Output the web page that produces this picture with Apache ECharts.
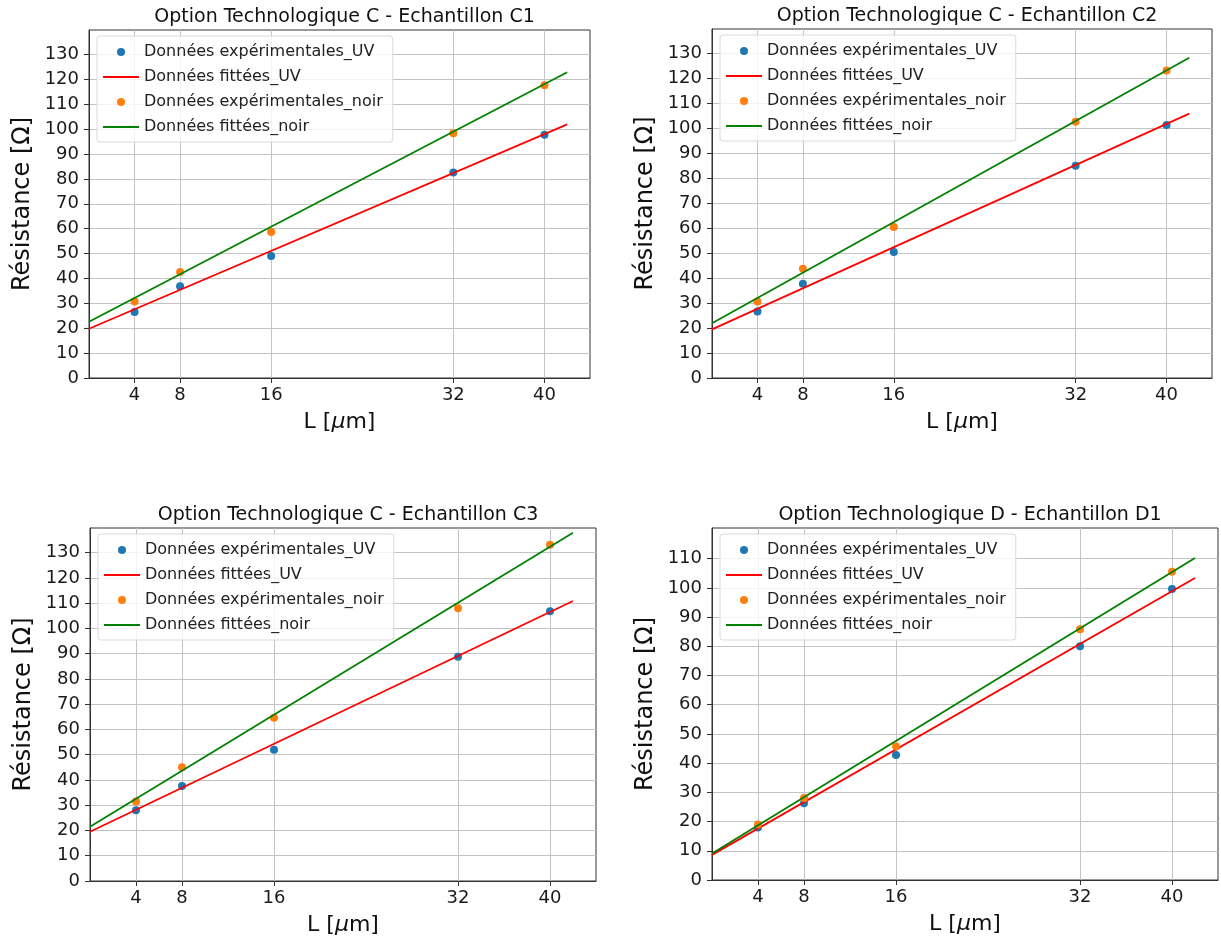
<!DOCTYPE html>
<html>
<head>
<meta charset="utf-8">
<script src="https://cdn.jsdelivr.net/npm/echarts@6/dist/echarts.min.js"></script>
<style>
html,body{margin:0;padding:0;background:#fff;}
#chart{width:1221px;height:945px;}
</style>
</head>
<body>
<div id="chart"></div>
<script>
// ---- data ----
const L = [4, 8, 16, 32, 40];
const fitX = [0, 42];
const xTicks = [4, 8, 16, 32, 40];
const yTicksC = [0, 10, 20, 30, 40, 50, 60, 70, 80, 90, 100, 110, 120, 130];
const yTicksD = [0, 10, 20, 30, 40, 50, 60, 70, 80, 90, 100, 110];

const titles = [
  'Option Technologique C - Echantillon C1',
  'Option Technologique C - Echantillon C2',
  'Option Technologique C - Echantillon C3',
  'Option Technologique D - Echantillon D1'
];
const seriesNames = ['Données expérimentales_UV', 'Données fittées_UV', 'Données expérimentales_noir', 'Données fittées_noir'];

const c1UV = [26.5, 36.9, 49.0, 82.6, 97.7];
const c1Noir = [30.7, 42.6, 58.7, 98.3, 117.6];
const c1FitUV = [19.8, 101.9];
const c1FitNoir = [22.6, 122.8];

const c2UV = [26.6, 37.8, 50.5, 85.0, 101.3];
const c2Noir = [30.6, 43.8, 60.5, 102.6, 123.2];
const c2FitUV = [19.5, 105.9];
const c2FitNoir = [21.9, 128.3];

const c3UV = [28.0, 37.6, 52.0, 88.8, 106.8];
const c3Noir = [31.5, 45.0, 64.7, 108.0, 133.2];
const c3FitUV = [19.5, 110.9];
const c3FitNoir = [21.5, 137.9];

const d1UV = [18.0, 26.3, 42.8, 80.0, 99.6];
const d1Noir = [19.0, 28.1, 45.7, 85.8, 105.5];
const d1FitUV = [8.6, 103.4];
const d1FitNoir = [9.1, 110.2];

const panelData = [
  {uv: c1UV, noir: c1Noir, fitUV: c1FitUV, fitNoir: c1FitNoir, yTicks: yTicksC, yMax: 139.8},
  {uv: c2UV, noir: c2Noir, fitUV: c2FitUV, fitNoir: c2FitNoir, yTicks: yTicksC, yMax: 139.8},
  {uv: c3UV, noir: c3Noir, fitUV: c3FitUV, fitNoir: c3FitNoir, yTicks: yTicksC, yMax: 139.8},
  {uv: d1UV, noir: d1Noir, fitUV: d1FitUV, fitNoir: d1FitNoir, yTicks: yTicksD, yMax: 120.5}
];

// ---- layout ----
const FONT = 'DejaVu Sans';
const grids = [
  {left: 89, top: 30, width: 501, height: 348},
  {left: 712, top: 29, width: 500, height: 349},
  {left: 90, top: 528, width: 506, height: 353},
  {left: 712, top: 528, width: 506, height: 352}
];
const colors = {uv: '#1f77b4', noir: '#ff7f0e', fitUV: '#ff0000', fitNoir: '#008000'};

const zip = (xs, ys) => xs.map((x, i) => [x, ys[i]]);

const option = {
  animation: false,
  backgroundColor: '#ffffff',
  title: [],
  legend: [],
  grid: [],
  xAxis: [],
  yAxis: [],
  series: []
};

grids.forEach((g, i) => {
  const p = panelData[i];
  option.grid.push({left: g.left, top: g.top, width: g.width, height: g.height,
    show: true, borderColor: '#333', borderWidth: 1, backgroundColor: 'transparent'});
  option.title.push({
    text: titles[i], left: g.left + g.width / 2, top: g.top - 27, textAlign: 'center',
    textStyle: {fontFamily: FONT, fontSize: 19, fontWeight: 'normal', color: '#111'}
  });
  option.legend.push({
    orient: 'vertical', left: g.left + 8, top: g.top + 6,
    padding: [8, 10, 7, 6], itemGap: 9, itemWidth: 36, itemHeight: 8,
    backgroundColor: 'rgba(255,255,255,0.8)', borderColor: '#dadada', borderWidth: 1, borderRadius: 3,
    textStyle: {fontFamily: FONT, fontSize: 16, color: '#222'},
    itemStyle: {borderWidth: 0},
    selectedMode: false,
    data: [
      {name: seriesNames[0], icon: 'circle'},
      {name: seriesNames[1], icon: 'path://M0,0H36V2H0Z'},
      {name: seriesNames[2], icon: 'circle'},
      {name: seriesNames[3], icon: 'path://M0,0H36V2H0Z'}
    ]
  });
  option.xAxis.push({
    type: 'value', gridIndex: i, min: 0, max: 44,
    name: 'L [{i|μ}m]', nameLocation: 'middle', nameGap: 33,
    nameTextStyle: {fontFamily: FONT, fontSize: 22, color: '#111',
      rich: {i: {fontFamily: FONT, fontSize: 22, fontStyle: 'italic', color: '#111'}}},
    axisLine: {show: true, onZero: false, lineStyle: {color: '#333', width: 1}},
    axisTick: {show: true, length: 5, customValues: xTicks, lineStyle: {color: '#333'}},
    axisLabel: {customValues: xTicks, fontFamily: FONT, fontSize: 18, color: '#1a1a1a', margin: 8},
    splitLine: {show: true, lineStyle: {color: '#c4c4c4', width: 1}}
  });
  option.yAxis.push({
    type: 'value', gridIndex: i, min: 0, max: p.yMax,
    name: 'Résistance [Ω]', nameLocation: 'middle', nameGap: 54,
    nameTextStyle: {fontFamily: FONT, fontSize: 24, color: '#111'},
    axisLine: {show: true, onZero: false, lineStyle: {color: '#333', width: 1}},
    axisTick: {show: true, length: 5, customValues: p.yTicks, lineStyle: {color: '#333'}},
    axisLabel: {customValues: p.yTicks, fontFamily: FONT, fontSize: 18, color: '#1a1a1a', margin: 10},
    splitLine: {show: true, lineStyle: {color: '#c4c4c4', width: 1}}
  });
  option.series.push(
    {type: 'scatter', name: seriesNames[0], xAxisIndex: i, yAxisIndex: i, data: zip(L, p.uv),
      symbolSize: 8, itemStyle: {color: colors.uv, opacity: 1}, z: 2},
    {type: 'line', name: seriesNames[1], xAxisIndex: i, yAxisIndex: i, data: zip(fitX, p.fitUV),
      symbol: 'none', lineStyle: {color: colors.fitUV, width: 1.8}, itemStyle: {color: colors.fitUV}, z: 3},
    {type: 'scatter', name: seriesNames[2], xAxisIndex: i, yAxisIndex: i, data: zip(L, p.noir),
      symbolSize: 8, itemStyle: {color: colors.noir, opacity: 1}, z: 4},
    {type: 'line', name: seriesNames[3], xAxisIndex: i, yAxisIndex: i, data: zip(fitX, p.fitNoir),
      symbol: 'none', lineStyle: {color: colors.fitNoir, width: 1.8}, itemStyle: {color: colors.fitNoir}, z: 5}
  );
});

const chart = echarts.init(document.getElementById('chart'), null, {renderer: 'canvas'});
chart.setOption(option);
</script>
</body>
</html>
